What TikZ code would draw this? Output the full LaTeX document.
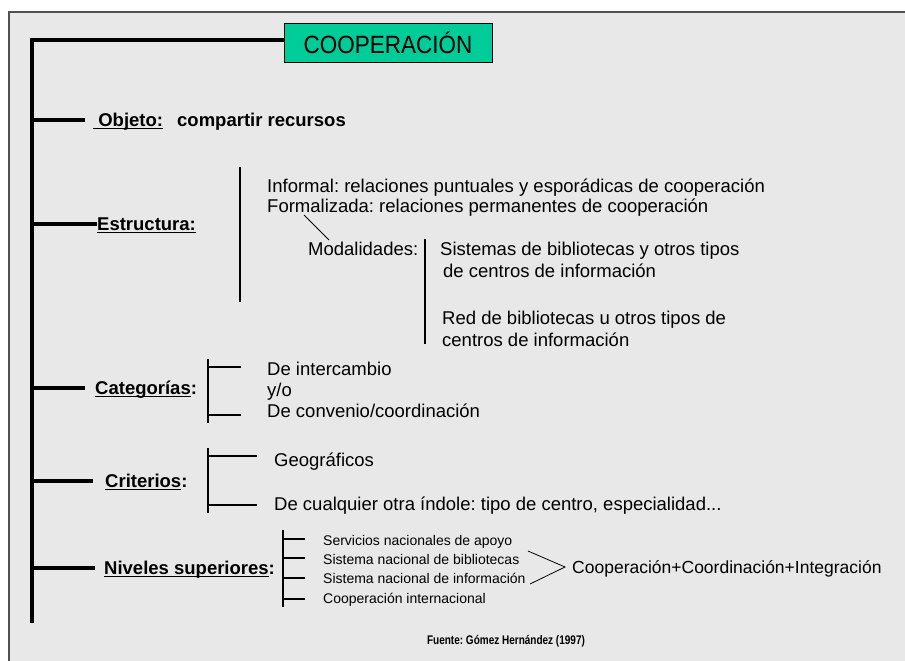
\documentclass[tikz,border=0pt]{standalone}
\usepackage{fontspec}
\setmainfont{Liberation Sans}
\newfontfamily\titlefont[FakeStretch=0.9]{Liberation Sans}
\newfontfamily\narrowfont[FakeStretch=0.8]{Liberation Sans}
\usetikzlibrary{calc, positioning}
\definecolor{coopgreen}{HTML}{00CC99}
\definecolor{panelgray}{HTML}{E8E8E8}
\definecolor{framegray}{HTML}{505050}
\frenchspacing
% underline at a fixed depth, as in the slide
\newcommand{\undl}[1]{\setbox0=\hbox{#1}\rlap{\rule[-2.6pt]{\wd0}{1.3pt}}\box0}

\tikzset{
  trunk/.style={line width=4pt},
  branch/.style={line width=3.5pt},
  bracket/.style={line width=2.6pt},
  thinline/.style={line width=0.8pt},
  head/.style={anchor=west, inner sep=0pt, font=\fontsize{18.5}{22}\selectfont\bfseries, text height=13.2pt, text depth=0pt},
  entry/.style={anchor=west, inner sep=0pt, font=\fontsize{18.5}{22}\selectfont, text height=13.2pt, text depth=0pt},
  subentry/.style={anchor=west, inner sep=0pt, font=\fontsize{14}{17}\selectfont, text height=10pt, text depth=0pt},
  titlebox/.style={draw, thin, fill=coopgreen, minimum width=208pt, minimum height=39pt, inner sep=0pt, font=\titlefont\fontsize{25}{30}\selectfont}
}

\begin{document}
\begin{tikzpicture}[x=1pt, y=-1pt]
  % panel
  \useasboundingbox (0,0) rectangle (905,661);
  \fill[white] (0,0) rectangle (905,661);
  \fill[panelgray] (9,12) rectangle (905,661);
  \draw[framegray, line width=1.5pt] (9,661) -- (9,12) -- (905,12);

  % title and trunk
  \node[titlebox] (coop) at (388,42.5) {COOPERACIÓN};
  \coordinate (trunk top) at (32,40);
  \coordinate (trunk end) at (32,623);
  \draw[trunk] (trunk end) -- (trunk top) -- (trunk top -| coop.west);

  % Objeto
  \node[head] (objeto) at (93,120) {\undl{\ Objeto:}};
  \node[head] (recursos) at (177,120) {compartir recursos};
  \draw[branch] (32,120) -- ([xshift=-8pt]objeto.west);

  % Estructura
  \node[head] (estructura) at (97,224) {\undl{Estructura:}};
  \draw[branch] (32,224) -- (estructura.west);
  \coordinate (estr top) at (240,167);
  \coordinate (estr end) at (240,302);
  \draw[bracket] (estr top) -- (estr end);
  \node[entry] (informal) at (267,186) {Informal: relaciones puntuales y esporádicas de cooperación};
  \node[entry] (formal) at (267,206) {Formalizada: relaciones permanentes de cooperación};
  \node[entry] (modal) at (308,249) {Modalidades:};
  \coordinate (formal tick) at (304,215);
  \coordinate (modal tick) at (329,240);
  \draw[thinline] (formal tick) -- (modal tick);
  \coordinate (modal top) at (425,239);
  \coordinate (modal end) at (425,344);
  \draw[bracket] (modal top) -- (modal end);
  \node[entry] (sistemas) at (440,249) {Sistemas de bibliotecas y otros tipos};
  \node[entry] (sistemas2) at (443,271) {de centros de información};
  \node[entry] (red) at (442,318) {Red de bibliotecas u otros tipos de};
  \node[entry] (red2) at (442,340) {centros de información};

  % Categorias
  \node[head] (categorias) at (95,388) {\undl{Categorías}:};
  \draw[branch] (32,388) -- ([xshift=-10pt]categorias.west);
  \draw[bracket] (208,359) -- (208,423);
  \node[entry] (intercambio) at (267,369) {De intercambio};
  \node[entry] (yo) at (267,390) {y/o};
  \node[entry] (convenio) at (267,411) {De convenio/coordinación};
  \draw[bracket] (208,367) -- (241,367);
  \draw[bracket] (208,415) -- (241,415);

  % Criterios
  \node[head] (criterios) at (105,481) {\undl{Criterios}:};
  \draw[branch] (32,481) -- ([xshift=-12pt]criterios.west);
  \draw[bracket] (208,448) -- (208,513);
  \node[entry] (geo) at (274,460) {Geográficos};
  \node[entry] (otra) at (274,504) {De cualquier otra índole: tipo de centro, especialidad...};
  \draw[bracket] (208,456) -- (257,456);
  \draw[bracket] (208,505) -- (257,505);

  % Niveles superiores
  \node[head] (niveles) at (104,568) {\undl{Niveles superiores}:};
  \draw[branch] (32,568) -- ([xshift=-9pt]niveles.west);
  \draw[bracket] (283,530) -- (283,607);
  \node[subentry] (apoyo) at (323,540) {Servicios nacionales de apoyo};
  \node[subentry] (biblio) at (323,559) {Sistema nacional de bibliotecas};
  \node[subentry] (info) at (323,578) {Sistema nacional de información};
  \node[subentry] (intl) at (323,598) {Cooperación internacional};
  \draw[bracket] (283,539) -- (305,539);
  \draw[bracket] (283,558) -- (305,558);
  \draw[bracket] (283,578) -- (305,578);
  \draw[bracket] (283,599) -- (305,599);
  \coordinate (chev a) at (528,551);
  \coordinate (chev tip) at (565,567);
  \coordinate (chev b) at (530,584);
  \draw[thinline] (chev a) -- (chev tip) -- (chev b);
  \node[entry, font=\fontsize{17.5}{21}\selectfont] (integ) at (572,567) {Cooperación+Coordinación+Integración};

  % fuente
  \node[font=\narrowfont\fontsize{12.5}{15}\selectfont\bfseries, inner sep=0pt] (fuente) at (506,641) {Fuente: Gómez Hernández (1997)};
\end{tikzpicture}
\end{document}
